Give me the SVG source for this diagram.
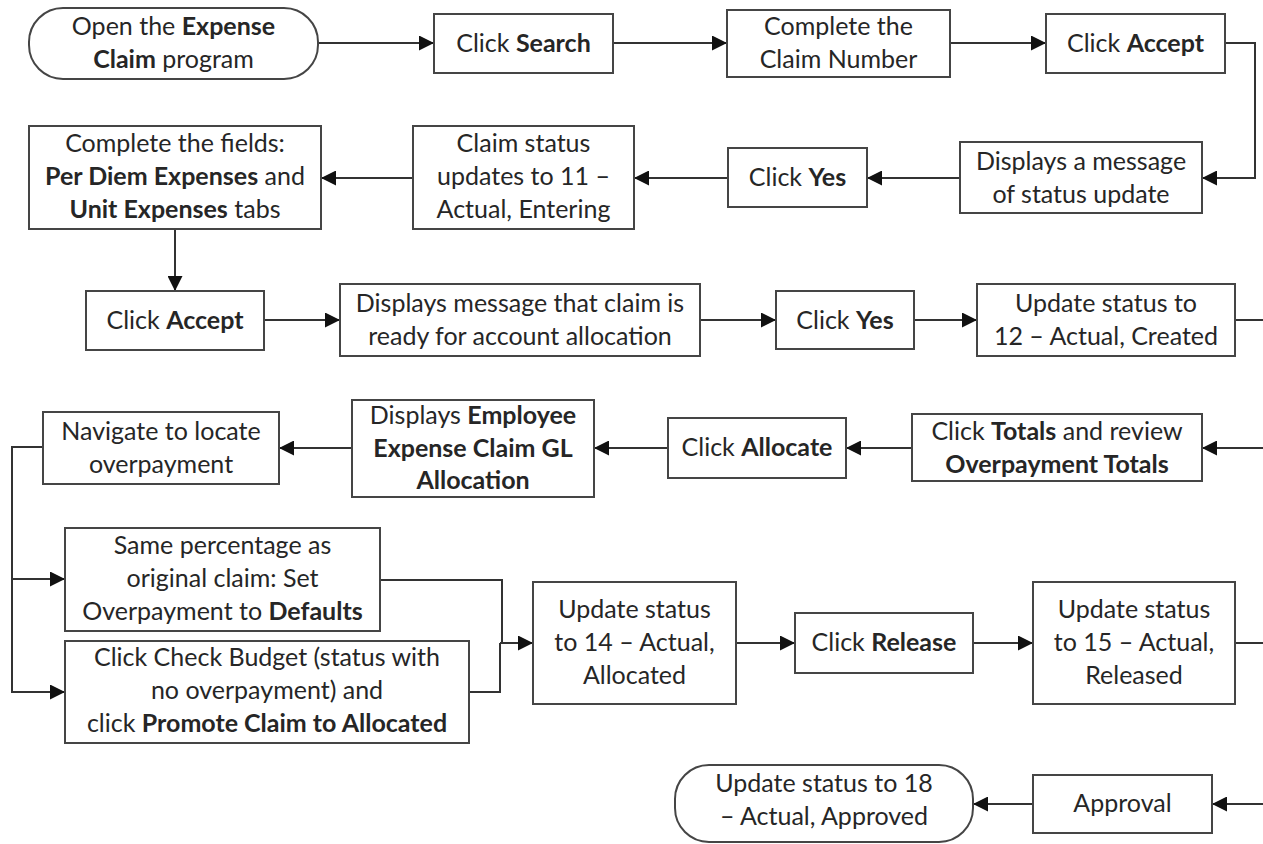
<svg xmlns="http://www.w3.org/2000/svg" width="1263" height="844" viewBox="0 0 1263 844">
  <style>
    .box { fill: #ffffff; stroke: #454545; stroke-width: 2; }
    .t { font-family: Lato, "Liberation Sans", sans-serif; font-size: 25px; fill: #262626; text-anchor: middle; }
    .b { font-weight: bold; }
    .edge { fill: none; stroke: #333333; stroke-width: 2; }
  </style>
  <defs>
    <marker id="ah" markerWidth="15" markerHeight="15" refX="15" refY="7.5" orient="auto" markerUnits="userSpaceOnUse">
      <path d="M0,0 L15,7.5 L0,15 Z" fill="#111111"/>
    </marker>
  </defs>
  <rect width="1263" height="844" fill="#ffffff"/>

  <!-- connectors -->
  <g id="connectors">
    <path class="edge" d="M318,43 H434" marker-end="url(#ah)"/>
    <path class="edge" d="M613,43 H727" marker-end="url(#ah)"/>
    <path class="edge" d="M950,43 H1046" marker-end="url(#ah)"/>
    <path class="edge" d="M1225,43 H1255 V178 H1202" marker-end="url(#ah)"/>
    <path class="edge" d="M960,178 H867" marker-end="url(#ah)"/>
    <path class="edge" d="M728,178 H634" marker-end="url(#ah)"/>
    <path class="edge" d="M413,178 H321" marker-end="url(#ah)"/>
    <path class="edge" d="M175,229 V291" marker-end="url(#ah)"/>
    <path class="edge" d="M264,320 H340" marker-end="url(#ah)"/>
    <path class="edge" d="M700,320 H776" marker-end="url(#ah)"/>
    <path class="edge" d="M914,320 H977" marker-end="url(#ah)"/>
    <path class="edge" d="M1235,320 H1263"/>
    <path class="edge" d="M1263,448 H1202" marker-end="url(#ah)"/>
    <path class="edge" d="M912,448 H846" marker-end="url(#ah)"/>
    <path class="edge" d="M668,448 H594" marker-end="url(#ah)"/>
    <path class="edge" d="M352,448 H279" marker-end="url(#ah)"/>
    <path class="edge" d="M43,447 H12 V693"/>
    <path class="edge" d="M12,579 H65" marker-end="url(#ah)"/>
    <path class="edge" d="M12,692 H65" marker-end="url(#ah)"/>
    <path class="edge" d="M380,580 H502 V643"/>
    <path class="edge" d="M469,692 H500 V643"/>
    <path class="edge" d="M500,643 H533" marker-end="url(#ah)"/>
    <path class="edge" d="M736,643 H795" marker-end="url(#ah)"/>
    <path class="edge" d="M973,643 H1033" marker-end="url(#ah)"/>
    <path class="edge" d="M1235,643 H1263"/>
    <path class="edge" d="M1263,804 H1212" marker-end="url(#ah)"/>
    <path class="edge" d="M1033,804 H973" marker-end="url(#ah)"/>
  </g>

  <!-- row 1 -->
  <g id="open-program">
    <rect class="box" x="29" y="8" width="289" height="71" rx="34" ry="34"/>
    <text class="t" x="173.5" y="35">Open the <tspan class="b">Expense</tspan></text>
    <text class="t" x="173.5" y="68"><tspan class="b">Claim</tspan> program</text>
  </g>
  <g id="click-search">
    <rect class="box" x="434" y="14" width="179" height="59"/>
    <text class="t" x="523.5" y="52">Click <tspan class="b">Search</tspan></text>
  </g>
  <g id="claim-number">
    <rect class="box" x="727" y="10" width="223" height="67"/>
    <text class="t" x="838.5" y="35">Complete the</text>
    <text class="t" x="838.5" y="68">Claim Number</text>
  </g>
  <g id="click-accept-1">
    <rect class="box" x="1046" y="14" width="179" height="59"/>
    <text class="t" x="1135.5" y="52">Click <tspan class="b">Accept</tspan></text>
  </g>

  <!-- row 2 -->
  <g id="status-message">
    <rect class="box" x="960" y="142" width="242" height="71"/>
    <text class="t" x="1081" y="170">Displays a message</text>
    <text class="t" x="1081" y="203">of status update</text>
  </g>
  <g id="click-yes-1">
    <rect class="box" x="728" y="148" width="139" height="59"/>
    <text class="t" x="797.5" y="186">Click <tspan class="b">Yes</tspan></text>
  </g>
  <g id="status-11">
    <rect class="box" x="413" y="126" width="221" height="103"/>
    <text class="t" x="523.5" y="152">Claim status</text>
    <text class="t" x="523.5" y="185">updates to 11 –</text>
    <text class="t" x="523.5" y="218">Actual, Entering</text>
  </g>
  <g id="complete-fields">
    <rect class="box" x="29" y="126" width="292" height="103"/>
    <text class="t" x="175" y="152">Complete the fields:</text>
    <text class="t" x="175" y="185"><tspan class="b">Per Diem Expenses</tspan> and</text>
    <text class="t" x="175" y="218"><tspan class="b">Unit Expenses</tspan> tabs</text>
  </g>

  <!-- row 3 -->
  <g id="click-accept-2">
    <rect class="box" x="86" y="291" width="178" height="59"/>
    <text class="t" x="175" y="329">Click <tspan class="b">Accept</tspan></text>
  </g>
  <g id="allocation-message">
    <rect class="box" x="340" y="284" width="360" height="72"/>
    <text class="t" x="520" y="312">Displays message that claim is</text>
    <text class="t" x="520" y="345">ready for account allocation</text>
  </g>
  <g id="click-yes-2">
    <rect class="box" x="776" y="291" width="138" height="58"/>
    <text class="t" x="845" y="329">Click <tspan class="b">Yes</tspan></text>
  </g>
  <g id="status-12">
    <rect class="box" x="977" y="284" width="258" height="72"/>
    <text class="t" x="1106" y="312">Update status to</text>
    <text class="t" x="1106" y="345">12 – Actual, Created</text>
  </g>

  <!-- row 4 -->
  <g id="click-totals">
    <rect class="box" x="912" y="414" width="290" height="67"/>
    <text class="t" x="1057" y="440">Click <tspan class="b">Totals</tspan> and review</text>
    <text class="t" x="1057" y="473"><tspan class="b">Overpayment Totals</tspan></text>
  </g>
  <g id="click-allocate">
    <rect class="box" x="668" y="418" width="178" height="60"/>
    <text class="t" x="757" y="456">Click <tspan class="b">Allocate</tspan></text>
  </g>
  <g id="gl-allocation">
    <rect class="box" x="352" y="400" width="242" height="97"/>
    <text class="t" x="473" y="424">Displays <tspan class="b">Employee</tspan></text>
    <text class="t" x="473" y="457"><tspan class="b">Expense Claim GL</tspan></text>
    <text class="t" x="473" y="489"><tspan class="b">Allocation</tspan></text>
  </g>
  <g id="locate-overpayment">
    <rect class="box" x="43" y="412" width="236" height="72"/>
    <text class="t" x="161" y="440">Navigate to locate</text>
    <text class="t" x="161" y="473">overpayment</text>
  </g>

  <!-- row 5 -->
  <g id="set-defaults">
    <rect class="box" x="65" y="528" width="315" height="103"/>
    <text class="t" x="222.5" y="554">Same percentage as</text>
    <text class="t" x="222.5" y="587">original claim: Set</text>
    <text class="t" x="222.5" y="620">Overpayment to <tspan class="b">Defaults</tspan></text>
  </g>
  <g id="check-budget">
    <rect class="box" x="65" y="641" width="404" height="102"/>
    <text class="t" x="267" y="666">Click Check Budget (status with</text>
    <text class="t" x="267" y="699">no overpayment) and</text>
    <text class="t" x="267" y="732">click <tspan class="b">Promote Claim to Allocated</tspan></text>
  </g>
  <g id="status-14">
    <rect class="box" x="533" y="582" width="203" height="122"/>
    <text class="t" x="634.5" y="618">Update status</text>
    <text class="t" x="634.5" y="651">to 14 – Actual,</text>
    <text class="t" x="634.5" y="684">Allocated</text>
  </g>
  <g id="click-release">
    <rect class="box" x="795" y="613" width="178" height="60"/>
    <text class="t" x="884" y="651">Click <tspan class="b">Release</tspan></text>
  </g>
  <g id="status-15">
    <rect class="box" x="1033" y="582" width="202" height="122"/>
    <text class="t" x="1134" y="618">Update status</text>
    <text class="t" x="1134" y="651">to 15 – Actual,</text>
    <text class="t" x="1134" y="684">Released</text>
  </g>

  <!-- row 6 -->
  <g id="approval">
    <rect class="box" x="1033" y="775" width="179" height="58"/>
    <text class="t" x="1122.5" y="812">Approval</text>
  </g>
  <g id="status-18">
    <rect class="box" x="675" y="765" width="298" height="77" rx="34" ry="34"/>
    <text class="t" x="824" y="792">Update status to 18</text>
    <text class="t" x="824" y="825">– Actual, Approved</text>
  </g>
</svg>
